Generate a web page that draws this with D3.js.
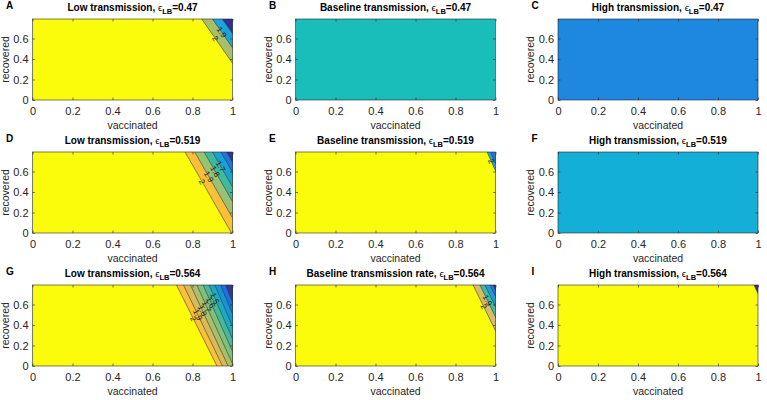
<!DOCTYPE html>
<html><head><meta charset="utf-8">
<script src="https://cdn.jsdelivr.net/npm/d3@7"></script>
<style>body{margin:0;background:#fff}svg{display:block}</style>
</head><body>
<svg id="chart" width="767" height="400"></svg>
<script>
// ---------- DATA ----------
const panelLetters = ["A","B","C","D","E","F","G","H","I"];
const transmissionLabels = [
  "Low transmission","Baseline transmission","High transmission",
  "Low transmission","Baseline transmission","High transmission",
  "Low transmission","Baseline transmission rate","High transmission"
];
const epsilonLB = ["0.47","0.47","0.47","0.519","0.519","0.519","0.564","0.564","0.564"];
const vaccinatedDomain = [0, 1];
const recoveredDomain = [0, 0.79];
const xTickValues = [0, 0.2, 0.4, 0.6, 0.8, 1];
const yTickValues = [0, 0.2, 0.4, 0.6];
// contour levels per panel (boundary between successive bands)
const contourLevels = [
  [2, 1.9, 1.8],
  [],
  [],
  [2, 1.9, 1.8, 1.7, 1.6, 1.5],
  [2, 1.9],
  [],
  [2, 1.9, 1.8, 1.7, 1.6, 1.5, 1.4, 1.3, 1.2],
  [2, 1.9, 1.8, 1.7, 1.6],
  [2]
];
// vaccinated value where each level line meets the top edge (recovered = max)
const levelTopVaccinated = [
  [0.846, 0.900, 0.949],
  [],
  [],
  [0.763, 0.811, 0.858, 0.900, 0.942, 0.970],
  [0.958, 0.975],
  [],
  [0.720, 0.755, 0.790, 0.822, 0.853, 0.883, 0.912, 0.940, 0.965],
  [0.888, 0.922, 0.947, 0.972, 0.988],
  [0.980]
];
// vaccinated value where each (extended) level line meets recovered = 0
const levelBottomVaccinated = [
  [1.128, 1.182, 1.231],
  [],
  [],
  [0.995, 1.043, 1.090, 1.132, 1.174, 1.202],
  [1.138, 1.155],
  [],
  [0.922, 0.950, 0.978, 1.005, 1.032, 1.058, 1.084, 1.108, 1.130],
  [1.086, 1.120, 1.145, 1.170, 1.186],
  [1.168]
];
// recovered value at which each inline level label sits (null = unlabeled)
const labelRecovered = [
  [0.60, 0.66, null],
  [],
  [],
  [0.50, 0.55, 0.60, 0.65, null, null],
  [0.70, null],
  [],
  [0.46, 0.50, 0.54, 0.58, 0.62, 0.66, null, null, null],
  [0.58, 0.64, null, null, null],
  [null]
];

// ---------- STYLE ----------
const bandPalettes = [
  ["#fbfb0c", "#a7bf6b", "#1ca3dc", "#2d2f9a"],
  ["#19bdb9"],
  ["#1e87e0"],
  ["#fbfb0c", "#fcbf3a", "#97c372", "#3eb99d", "#17a1d4", "#1f76e0", "#39309a"],
  ["#fbfb0c", "#1ea5da", "#1f78e0"],
  ["#13afd6"],
  ["#fbfb0c", "#fdc03a", "#d8ba56", "#a9bf68", "#7dc27c", "#45b99a", "#18acc0", "#1595d8", "#1a72e0", "#3b3498"],
  ["#fbfb0c", "#d6bd66", "#3fbaa0", "#1a9ddc", "#2a6fe3", "#2f2c8e"],
  ["#fbfb0c", "#2d3090"]
];
const colLeft = [32.5, 295.5, 558];
const rowTop = [19, 152, 285];
const plotW = 200, plotH = 81;
const textColor = "#262626";
const fontFam = "'Liberation Sans', Arial, Helvetica, sans-serif";

const svg = d3.select("#chart");
const defs = svg.append("defs");

panelLetters.forEach((letter, i) => {
  const r = Math.floor(i / 3), c = i % 3;
  const left = colLeft[c], top = rowTop[r];
  const x = d3.scaleLinear(vaccinatedDomain, [left, left + plotW]);
  const y = d3.scaleLinear(recoveredDomain, [top + plotH, top]);
  const g = svg.append("g");
  const clipId = "clip" + i;
  defs.append("clipPath").attr("id", clipId).append("rect")
    .attr("x", left).attr("y", top).attr("width", plotW).attr("height", plotH);

  const pal = bandPalettes[i];
  const ymax = recoveredDomain[1];
  const plot = g.append("g").attr("clip-path", `url(#${clipId})`);
  plot.append("rect").attr("x", left).attr("y", top).attr("width", plotW).attr("height", plotH)
    .attr("fill", pal[0]);

  const tops = levelTopVaccinated[i], bots = levelBottomVaccinated[i];
  const xAt = (k, yy) => tops[k] + (bots[k] - tops[k]) * (ymax - yy) / ymax;
  contourLevels[i].forEach((lev, k) => {
    const yT = ymax + 0.2;
    const poly = [[xAt(k, yT), yT], [2, yT], [2, -1], [xAt(k, -1), -1]];
    plot.append("path")
      .attr("d", d3.line().x(d => x(d[0])).y(d => y(d[1]))(poly) + "Z")
      .attr("fill", pal[k + 1] || pal[pal.length - 1]);
  });
  contourLevels[i].forEach((lev, k) => {
    plot.append("line")
      .attr("x1", x(xAt(k, ymax + 0.2))).attr("y1", y(ymax + 0.2))
      .attr("x2", x(xAt(k, -0.2))).attr("y2", y(-0.2))
      .attr("stroke", "#3a3a3a").attr("stroke-width", 0.6);
  });
  contourLevels[i].forEach((lev, k) => {
    const ly = labelRecovered[i][k];
    if (ly == null) return;
    const px = x(xAt(k, ly)), py = y(ly);
    const ang = Math.atan2(y(0) - y(ymax), x(bots[k]) - x(tops[k])) * 180 / Math.PI;
    plot.append("text")
      .attr("transform", `translate(${px},${py}) rotate(${ang})`)
      .attr("text-anchor", "middle").attr("dy", "0.35em")
      .attr("font-family", fontFam).attr("font-size", 8)
      .attr("fill", "#1a1a1a")
      .text(String(lev));
  });

  // axes
  const fmt = d => String(d);
  const styleAxis = sel => {
    sel.select(".domain").remove();
    sel.selectAll("line").attr("stroke", textColor).attr("stroke-width", 0.6);
    sel.selectAll("text").attr("fill", textColor).attr("font-family", fontFam).attr("font-size", 11);
  };
  g.append("g").attr("transform", `translate(0,${top + plotH})`)
    .call(d3.axisBottom(x).tickValues(xTickValues).tickFormat(fmt).tickSizeInner(-2.5).tickSizeOuter(0).tickPadding(7))
    .call(styleAxis);
  g.append("g").attr("transform", `translate(0,${top})`)
    .call(d3.axisTop(x).tickValues(xTickValues).tickFormat("").tickSizeInner(-2.5).tickSizeOuter(0))
    .call(styleAxis);
  g.append("g").attr("transform", `translate(${left},0)`)
    .call(d3.axisLeft(y).tickValues(yTickValues).tickFormat(fmt).tickSizeInner(-2.5).tickSizeOuter(0).tickPadding(4))
    .call(styleAxis);
  g.append("g").attr("transform", `translate(${left + plotW},0)`)
    .call(d3.axisRight(y).tickValues(yTickValues).tickFormat("").tickSizeInner(-2.5).tickSizeOuter(0))
    .call(styleAxis);
  g.append("rect").attr("x", left).attr("y", top).attr("width", plotW).attr("height", plotH)
    .attr("fill", "none").attr("stroke", textColor).attr("stroke-width", 0.6);

  // axis labels
  g.append("text").attr("x", left + plotW / 2).attr("y", top + plotH + 29)
    .attr("text-anchor", "middle").attr("font-family", fontFam).attr("font-size", 10.5)
    .attr("fill", textColor).text("vaccinated");
  g.append("text").attr("transform", `translate(${left - 24},${top + plotH / 2}) rotate(-90)`)
    .attr("text-anchor", "middle").attr("font-family", fontFam).attr("font-size", 10.5)
    .attr("fill", textColor).text("recovered");

  // title
  const t = g.append("text").attr("x", left + plotW / 2).attr("y", top - 8.5)
    .attr("text-anchor", "middle").attr("font-family", fontFam).attr("font-size", 10)
    .attr("font-weight", "bold").attr("fill", "#000");
  t.append("tspan").text(transmissionLabels[i] + ", ");
  t.append("tspan").attr("font-weight", "normal").attr("font-size", 9.5).text("\u03F5");
  t.append("tspan").attr("font-size", 7.5).attr("dy", 3).text("LB");
  t.append("tspan").attr("dy", -3).text("=" + epsilonLB[i]);

  // panel letter
  g.append("text").attr("x", left - 26.5).attr("y", top - 10)
    .attr("font-family", fontFam).attr("font-size", 10).attr("font-weight", "bold")
    .attr("fill", "#000").text(letter);
});
</script>
</body></html>
